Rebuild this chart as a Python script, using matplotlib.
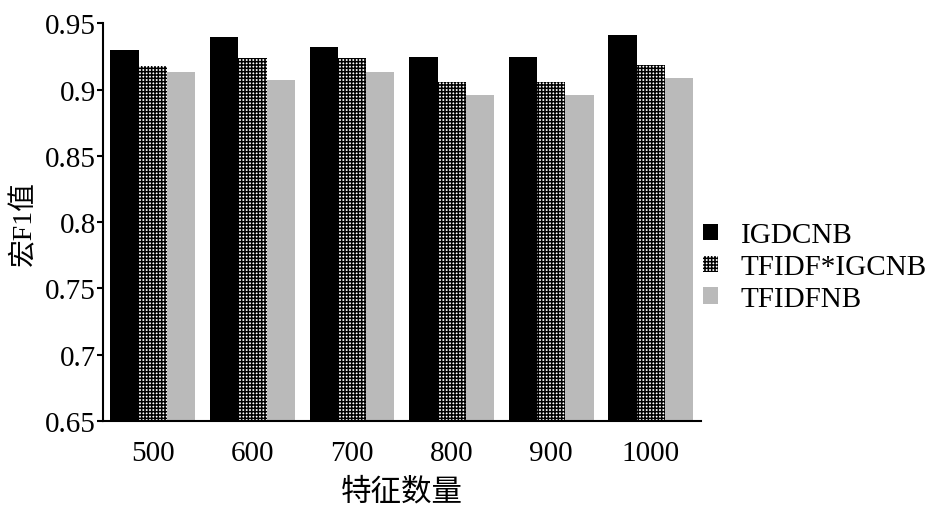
import numpy as np
import matplotlib
matplotlib.use('Agg')
import matplotlib.pyplot as plt

plt.rcParams['font.family'] = ['Liberation Serif', 'Noto Sans CJK SC']
plt.rcParams['hatch.linewidth'] = 1.1

# 数据
jumlah_fitur = ['500', '600', '700', '800', '900', '1000']
igdcnb = [0.930, 0.940, 0.932, 0.925, 0.925, 0.941]
tfidf_igcnb = [0.918, 0.924, 0.924, 0.906, 0.906, 0.919]
tfidfnb = [0.913, 0.907, 0.913, 0.896, 0.896, 0.909]
nama_seri = ['IGDCNB', 'TFIDF*IGCNB', 'TFIDFNB']

fig = plt.figure(figsize=(9.45, 5.1), dpi=100)
ax = fig.add_axes([0.109, 0.173, 0.6325, 0.779])

x = np.arange(len(jumlah_fitur))
lebar = 0.284

b1 = ax.bar(x - lebar, igdcnb, lebar, color='black', label=nama_seri[0])
# pola kotak-kotak rapat untuk seri tengah
b2 = ax.bar(x, tfidf_igcnb, lebar, facecolor='white', edgecolor='black',
            hatch='+++++', linewidth=0, label=nama_seri[1])
b3 = ax.bar(x + lebar, tfidfnb, lebar, color='#bababa', label=nama_seri[2])

ax.set_xlim(-0.5, len(jumlah_fitur) - 0.5)
ax.set_ylim(0.65, 0.95)
ax.set_yticks([0.65, 0.7, 0.75, 0.8, 0.85, 0.9, 0.95])
ax.set_yticklabels(['0.65', '0.7', '0.75', '0.8', '0.85', '0.9', '0.95'])
ax.set_xticks(x)
ax.set_xticklabels(jumlah_fitur)

ax.spines['top'].set_visible(False)
ax.spines['right'].set_visible(False)
ax.spines['left'].set_linewidth(1.5)
ax.spines['bottom'].set_linewidth(1.5)
ax.tick_params(axis='y', direction='out', length=4, width=1.5, labelsize=21, pad=1)
ax.tick_params(axis='x', length=0, labelsize=21, pad=14)

ax.set_xlabel('特征数量', fontsize=22, labelpad=8)
ax.set_ylabel('宏F1值', fontsize=20, labelpad=6)

fig.legend(handles=[b1, b2, b3], loc='center left', bbox_to_anchor=(0.744, 0.474),
           frameon=False, fontsize=21, handlelength=0.5, handleheight=0.5,
           handletextpad=0.8, labelspacing=0.2, borderpad=0, borderaxespad=0)

fig.savefig('out.png', dpi=100)
